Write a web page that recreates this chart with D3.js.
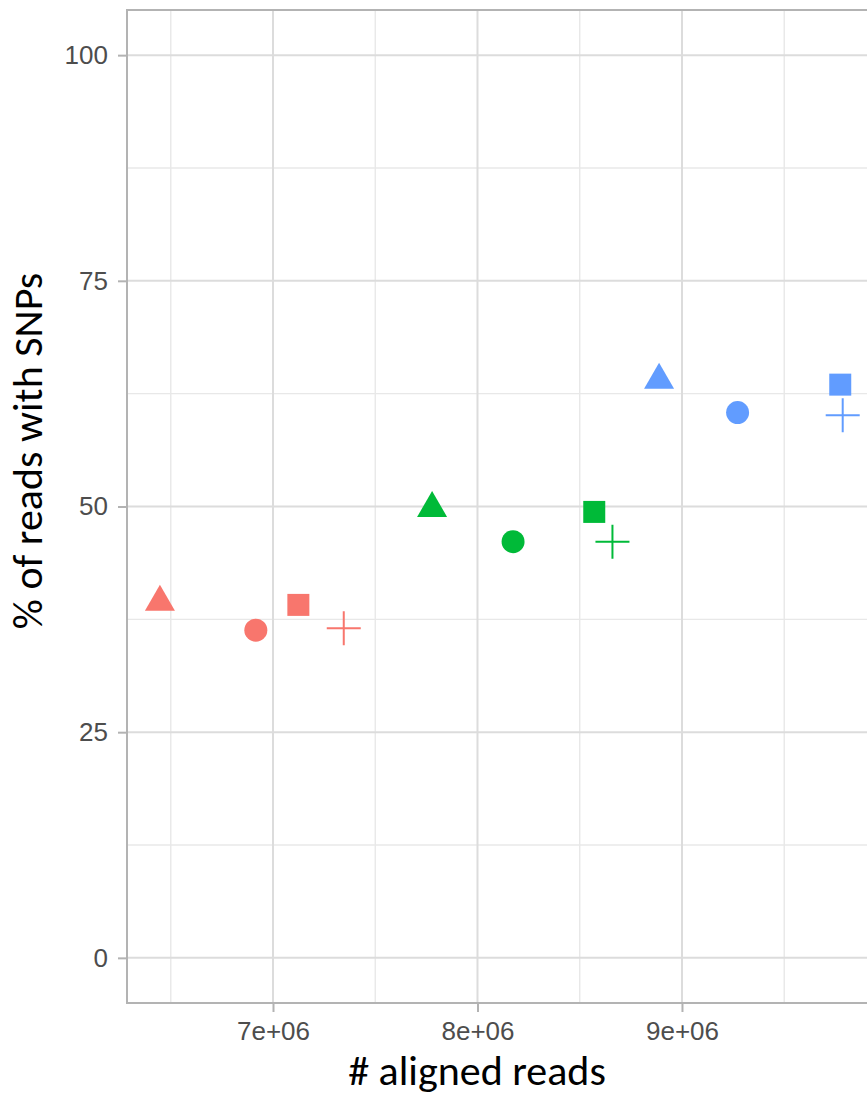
<!DOCTYPE html>
<meta charset="utf-8">
<style>
body { margin: 0; background: #fff; overflow: hidden; }
.tick text { font-family: "Liberation Sans", Arial, sans-serif; font-size: 26px; fill: #4d4d4d; }
.tick line { stroke: #b3b3b3; stroke-width: 2px; }
.title { font-family: Carlito, Lato, sans-serif; font-size: 42px; fill: #000; }
</style>
<svg width="867" height="1097"></svg>
<script src="https://d3js.org/d3.v7.min.js"></script>
<script>

// shapes in sample order (ggplot defaults 16, 17, 15, 3)
var shapes = ["circle", "triangle", "square", "plus"];

// # aligned reads and % of reads with SNPs, one pair per group
var readsRed   = [6.916e6, 6.447e6, 7.124e6, 7.346e6];
var snpRed     = [36.3, 39.4, 39.1, 36.5];
var readsGreen = [8.174e6, 7.778e6, 8.571e6, 8.660e6];
var snpGreen   = [46.1, 49.8, 49.4, 46.1];
var readsBlue  = [9.272e6, 8.888e6, 9.774e6, 9.786e6];
var snpBlue    = [60.4, 64.0, 63.5, 60.1];

var colors = ["#F8766D", "#00BA38", "#619CFF"];

var yTicks = [0, 25, 50, 75, 100];
var yMinor = [12.5, 37.5, 62.5, 87.5];
var xTicks = [7e6, 8e6, 9e6];
var xMinor = [6.5e6, 7.5e6, 8.5e6, 9.5e6];

var svg = d3.select("svg"),
    panel = {left: 127, top: 10, right: 920, bottom: 1003};

var x = d3.scaleLinear()
    .domain([6.286e6, 10.164e6])
    .range([panel.left, panel.right]);

var y = d3.scaleLinear()
    .domain([-5, 105])
    .range([panel.bottom, panel.top]);

// 7e+06 style labels like R
var fmt = function(d) {
  return d3.format(".0e")(d).replace(/e([+-])(\d)$/, "e$10$2");
};

var grid = svg.append("g");
grid.selectAll(".hminor").data(yMinor).enter().append("line")
    .attr("x1", panel.left).attr("x2", panel.right)
    .attr("y1", y).attr("y2", y)
    .attr("stroke", "#e8e8e8").attr("stroke-width", 1.4);
grid.selectAll(".vminor").data(xMinor).enter().append("line")
    .attr("y1", panel.top).attr("y2", panel.bottom)
    .attr("x1", x).attr("x2", x)
    .attr("stroke", "#e8e8e8").attr("stroke-width", 1.4);
grid.selectAll(".hmajor").data(yTicks).enter().append("line")
    .attr("x1", panel.left).attr("x2", panel.right)
    .attr("y1", y).attr("y2", y)
    .attr("stroke", "#dcdcdc").attr("stroke-width", 2);
grid.selectAll(".vmajor").data(xTicks).enter().append("line")
    .attr("y1", panel.top).attr("y2", panel.bottom)
    .attr("x1", x).attr("x2", x)
    .attr("stroke", "#dcdcdc").attr("stroke-width", 2);

var series = [
  {reads: readsRed, snp: snpRed, color: colors[0]},
  {reads: readsGreen, snp: snpGreen, color: colors[1]},
  {reads: readsBlue, snp: snpBlue, color: colors[2]}
];

var points = [];
series.forEach(function(s) {
  s.reads.forEach(function(r, i) {
    points.push({x: r, y: s.snp[i], shape: shapes[i], color: s.color});
  });
});

var symbolPath = {
  circle: d3.symbol(d3.symbolCircle, 415)(),
  triangle: d3.symbol(d3.symbolTriangle, 390)(),
  square: d3.symbol(d3.symbolSquare, 484)(),
  plus: "M-17,0H17M0,-17V17"
};

svg.append("g").selectAll("path")
    .data(points)
  .enter().append("path")
    .attr("transform", function(d) { return "translate(" + x(d.x) + "," + y(d.y) + ")"; })
    .attr("d", function(d) { return symbolPath[d.shape]; })
    .attr("fill", function(d) { return d.shape == "plus" ? "none" : d.color; })
    .attr("stroke", function(d) { return d.shape == "plus" ? d.color : "none"; })
    .attr("stroke-width", 2);

svg.append("rect")
    .attr("x", panel.left).attr("y", panel.top)
    .attr("width", panel.right - panel.left)
    .attr("height", panel.bottom - panel.top)
    .attr("fill", "none")
    .attr("stroke", "#b3b3b3")
    .attr("stroke-width", 2);

svg.append("g")
    .attr("transform", "translate(" + panel.left + ",0)")
    .call(d3.axisLeft(y).tickValues(yTicks).tickSize(9).tickPadding(10))
    .call(function(g) { g.select(".domain").remove(); });

svg.append("g")
    .attr("transform", "translate(0," + panel.bottom + ")")
    .call(d3.axisBottom(x).tickValues(xTicks).tickSize(9).tickPadding(10).tickFormat(fmt))
    .call(function(g) { g.select(".domain").remove(); });

svg.append("text")
    .attr("class", "title")
    .attr("x", 477)
    .attr("y", 1085)
    .attr("text-anchor", "middle")
    .text("# aligned reads");

svg.append("text")
    .attr("class", "title")
    .attr("transform", "translate(42,451) rotate(-90)")
    .attr("text-anchor", "middle")
    .text("% of reads with SNPs");
</script>
